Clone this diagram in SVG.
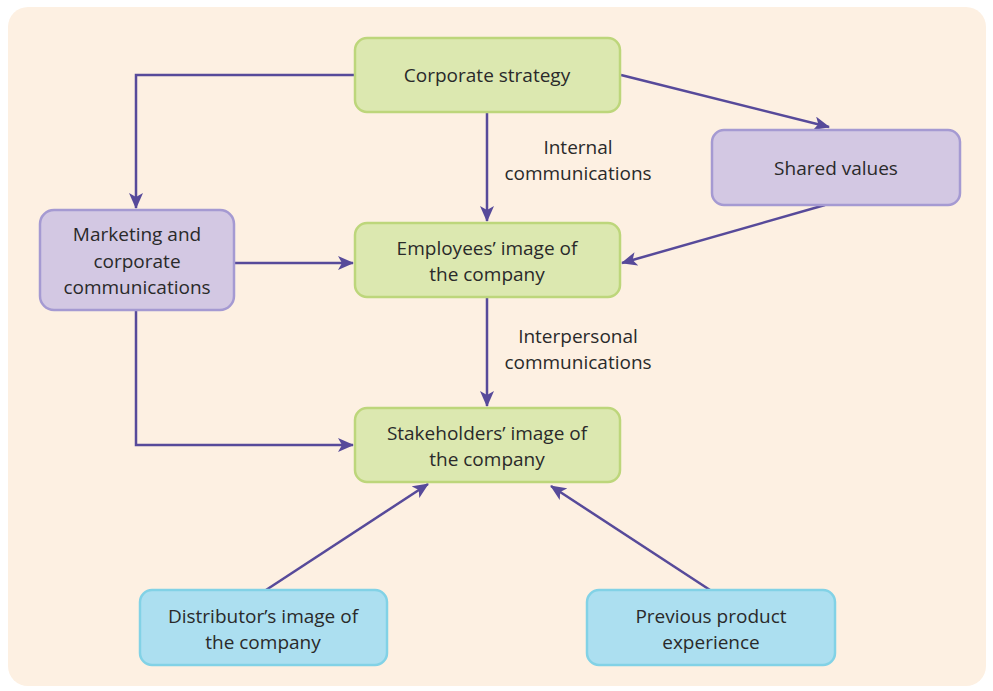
<svg xmlns="http://www.w3.org/2000/svg" width="993" height="691" viewBox="0 0 993 691">
<defs>
<marker id="ah" viewBox="0 0 16 14" refX="15" refY="7" markerWidth="16" markerHeight="14" markerUnits="userSpaceOnUse" orient="auto">
<path d="M0,0 L16,7 L0,14 L4,7 z" fill="#574A9A"/>
</marker>
<style>
.g rect{fill:#DCE8B0;stroke:#BDD67B;stroke-width:2.5}
.p rect{fill:#D3C8E3;stroke:#A59AD2;stroke-width:2.5}
.b rect{fill:#ACDFF0;stroke:#82D2E6;stroke-width:2.5}
text{font-family:"Open Sans","Noto Sans",sans-serif;font-size:19px;fill:#2a2a2a;text-anchor:middle}
.c path{fill:none;stroke:#574A9A;stroke-width:2.5;marker-end:url(#ah)}
</style>
</defs>
<rect width="993" height="691" fill="#ffffff"/>
<rect x="8" y="7" width="978" height="679" rx="20" fill="#FDF0E2"/>
<g class="c" id="connectors">
<path d="M355,75 H136 V208"/>
<path d="M487,112 V221"/>
<path d="M621,75 L829,127"/>
<path d="M825,205 L622,263"/>
<path d="M234,263 H353"/>
<path d="M487,297 V406"/>
<path d="M136,310 V445 H353"/>
<path d="M266,590 L428,484"/>
<path d="M710,590 L551,486"/>
</g>
<g id="corporate" class="g"><rect x="355" y="38" width="265" height="74" rx="12"/><text x="487" y="82">Corporate strategy</text></g>
<g id="shared" class="p"><rect x="712" y="130" width="248" height="75" rx="12"/><text x="836" y="175">Shared values</text></g>
<g id="marketing" class="p"><rect x="40" y="210" width="194" height="100" rx="14"/><text x="137" y="241">Marketing and</text><text x="137" y="268">corporate</text><text x="137" y="294">communications</text></g>
<g id="employees" class="g"><rect x="355" y="223" width="265" height="74" rx="12"/><text x="487" y="255">Employees’ image of</text><text x="487" y="281">the company</text></g>
<g id="stakeholders" class="g"><rect x="355" y="408" width="265" height="74" rx="12"/><text x="487" y="440">Stakeholders’ image of</text><text x="487" y="466">the company</text></g>
<g id="distributor" class="b"><rect x="140" y="590" width="247" height="75" rx="12"/><text x="263" y="623">Distributor’s image of</text><text x="263" y="649">the company</text></g>
<g id="previous" class="b"><rect x="587" y="590" width="248" height="75" rx="12"/><text x="711" y="623">Previous product</text><text x="711" y="649">experience</text></g>
<g id="labels">
<text x="578" y="154">Internal</text><text x="578" y="180">communications</text>
<text x="578" y="343">Interpersonal</text><text x="578" y="369">communications</text>
</g>
</svg>
